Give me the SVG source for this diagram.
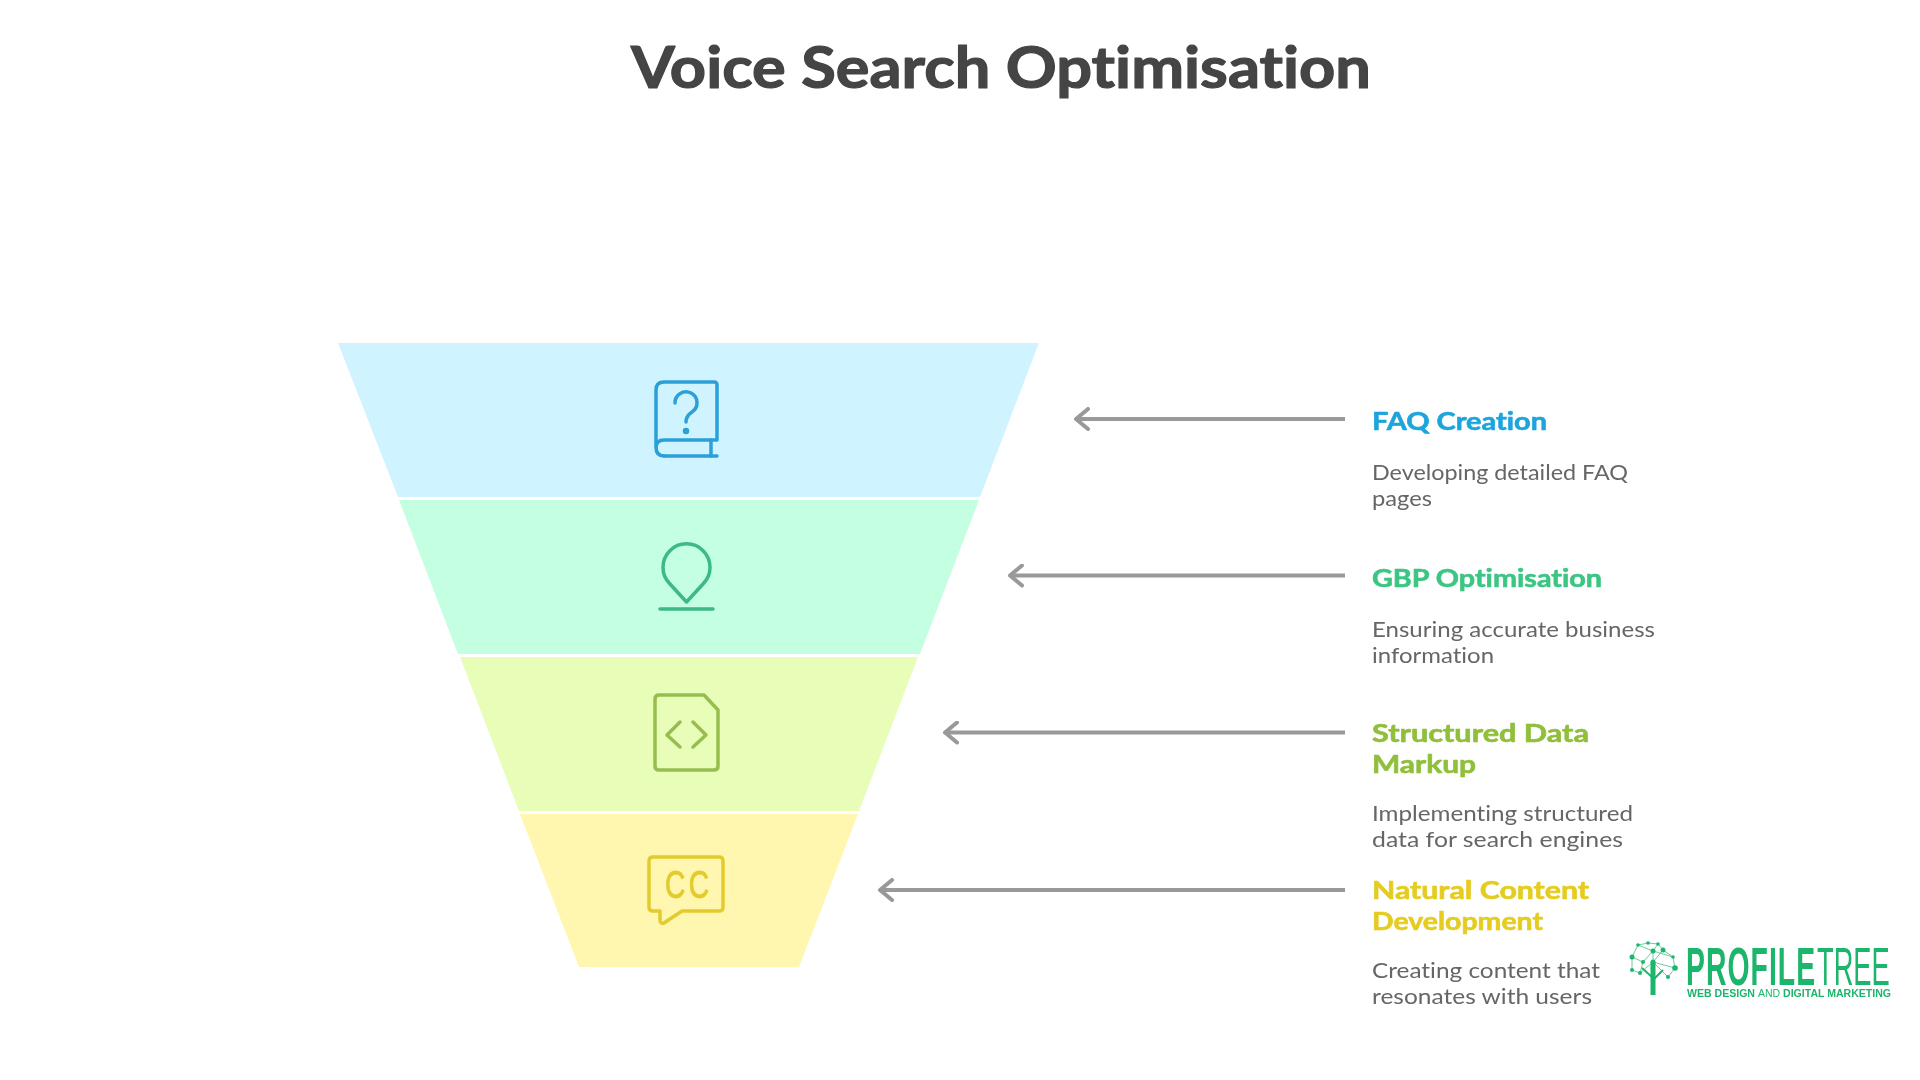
<svg xmlns="http://www.w3.org/2000/svg" width="1920" height="1080" viewBox="0 0 1920 1080">
<defs>
<marker id="ah" viewBox="0 0 24 24" refX="3" refY="12" markerWidth="24" markerHeight="24" markerUnits="userSpaceOnUse" orient="auto"><path d="M15 2 L3 12 L15 22" fill="none" stroke="#999999" stroke-width="4" stroke-linecap="round" stroke-linejoin="round"/></marker>
<filter id="soft" filterUnits="userSpaceOnUse" x="0" y="0" width="1920" height="1080"><feGaussianBlur stdDeviation="0.7"/></filter>
</defs>
<style>
text{font-family:"Lato","Open Sans","Liberation Sans",sans-serif;font-variant-ligatures:none}
.ttl{font-size:58px;font-weight:700;fill:#444444;stroke:#444444;stroke-width:1.2px;stroke-linejoin:round}
.h{font-size:25px;font-weight:700;stroke-width:.6px;stroke-linejoin:round}
.d{font-size:21.5px;fill:#666666}
.ic{fill:none;stroke-width:3.5;stroke-linecap:round;stroke-linejoin:round}
.conn{stroke:#999999;stroke-width:4;fill:none;marker-start:url(#ah)}
.lg{font-family:"Liberation Sans",sans-serif;fill:#1db56c}
.tr{stroke:#1db56c;stroke-width:1;fill:none;opacity:.65}
.nd{fill:#1db56c}
</style>
<rect width="1920" height="1080" fill="#ffffff"/>
<g id="diagram" filter="url(#soft)">
<text id="title" class="ttl" x="631" y="88" textLength="740" lengthAdjust="spacingAndGlyphs">Voice Search Optimisation</text>

<g id="connectors">
<path class="conn" d="M1076 419 H1345"/>
<path class="conn" d="M1010 575.500 H1345"/>
<path class="conn" d="M945 732.500 H1345"/>
<path class="conn" d="M880 890 H1345"/>
</g>

<g id="node-faq">
<polygon points="338,343 1039,343 980,497 398,497" fill="#d0f4ff"/>
<g class="ic" stroke="#2a9fd8">
<path d="M664 456 Q656 456 656 447 V390 Q656 382 664 382 H714 Q717 382 717 385 V440 H664 Q656 440 656 448"/>
<path d="M664 456 H717"/>
<path d="M711 440 V456"/>
<path d="M675 403 A11 11 0 1 1 692 412 Q686 416 686 422"/>
<circle cx="686" cy="431" r="1.500"/>
</g>
<text class="h" fill="#1fa5dc" stroke="#1fa5dc" x="1372" y="430" textLength="175" lengthAdjust="spacingAndGlyphs">FAQ Creation</text>
<text class="d" x="1372" y="480" textLength="256" lengthAdjust="spacingAndGlyphs">Developing detailed FAQ</text>
<text class="d" x="1372" y="506" textLength="60" lengthAdjust="spacingAndGlyphs">pages</text>
</g>

<g id="node-gbp">
<polygon points="399,500 979,500 920,654 458,654" fill="#c4ffe2"/>
<g class="ic" stroke="#3db888">
<path d="M686.500 602 L670 584 A23.500 23.500 0 1 1 703 584 Z"/>
<path d="M660 609 H713"/>
</g>
<text class="h" fill="#3cc583" stroke="#3cc583" x="1372" y="587" textLength="230" lengthAdjust="spacingAndGlyphs">GBP Optimisation</text>
<text class="d" x="1372" y="637" textLength="283" lengthAdjust="spacingAndGlyphs">Ensuring accurate business</text>
<text class="d" x="1372" y="663" textLength="122" lengthAdjust="spacingAndGlyphs">information</text>
</g>

<g id="node-structured">
<polygon points="460,657 918,657 859,811 519,811" fill="#e8fdb8"/>
<g class="ic" stroke="#96be50">
<path d="M659 695 H704 L718 710 V766 Q718 770 714 770 H659 Q655 770 655 766 V699 Q655 695 659 695 Z"/>
<path d="M680 722 L667 735 L680 747"/>
<path d="M693 722 L706 735 L693 747"/>
</g>
<text class="h" fill="#8fbf3a" stroke="#8fbf3a" x="1372" y="742" textLength="217" lengthAdjust="spacingAndGlyphs">Structured Data</text>
<text class="h" fill="#8fbf3a" stroke="#8fbf3a" x="1372" y="773" textLength="104" lengthAdjust="spacingAndGlyphs">Markup</text>
<text class="d" x="1372" y="821" textLength="261" lengthAdjust="spacingAndGlyphs">Implementing structured</text>
<text class="d" x="1372" y="847" textLength="251" lengthAdjust="spacingAndGlyphs">data for search engines</text>
</g>

<g id="node-natural">
<polygon points="520,814 858,814 799,967 579,967" fill="#fff6b0"/>
<g class="ic" stroke="#e3cb2e">
<path d="M653 857 H719 Q723 857 723 861 V907 Q723 911 719 911 H682 L664 923 Q660 924 660 920 V911 H653 Q649 911 649 907 V861 Q649 857 653 857 Z"/>
</g>
<text transform="translate(665 898) scale(.72 1)" font-size="39" fill="#e3cb2e" stroke="#e3cb2e" stroke-width="1" letter-spacing="5" style="font-family:'Liberation Sans',sans-serif">CC</text>
<text class="h" fill="#e5cc20" stroke="#e5cc20" x="1372" y="899" textLength="217" lengthAdjust="spacingAndGlyphs">Natural Content</text>
<text class="h" fill="#e5cc20" stroke="#e5cc20" x="1372" y="930" textLength="171" lengthAdjust="spacingAndGlyphs">Development</text>
<text class="d" x="1372" y="978" textLength="228" lengthAdjust="spacingAndGlyphs">Creating content that</text>
<text class="d" x="1372" y="1004" textLength="220" lengthAdjust="spacingAndGlyphs">resonates with users</text>
</g>

<g id="logo">
<path class="tr" d="M1632 957 L1638 945 L1648 943 L1658 944 L1663 950 L1673 957 L1675 968 L1668 977 M1632 957 L1632 970 L1640 973 L1653 962 L1663 950 M1638 945 L1653 951 L1658 944 M1632 957 L1643 962 L1653 951 L1653 962 L1668 977 M1643 962 L1640 973 M1653 962 L1675 968 M1673 957 L1653 951"/>
<path d="M1653 962 V995" stroke="#1db56c" stroke-width="5" fill="none"/>
<path d="M1653 978 L1642 968 M1653 980 L1663 970" stroke="#1db56c" stroke-width="2" fill="none"/>
<g class="nd">
<circle cx="1632" cy="957" r="2.500"/><circle cx="1638" cy="945" r="1.800"/><circle cx="1648" cy="943" r="1.800"/><circle cx="1658" cy="944" r="1.800"/><circle cx="1653" cy="951" r="2.500"/><circle cx="1663" cy="950" r="2.500"/><circle cx="1673" cy="957" r="1.800"/><circle cx="1675" cy="968" r="2.800"/><circle cx="1668" cy="977" r="2"/><circle cx="1653" cy="962" r="2.500"/><circle cx="1643" cy="962" r="2"/><circle cx="1632" cy="970" r="2"/><circle cx="1640" cy="973" r="2"/>
</g>
<text class="lg" transform="translate(1686 985) scale(.525 1)" font-size="54" font-weight="700" letter-spacing="2">PROFILE</text>
<text class="lg" transform="translate(1817 985) scale(.505 1)" font-size="54">TREE</text>
<text class="lg" transform="translate(1687 997) scale(.96 1)" font-size="11" font-weight="700">WEB DESIGN <tspan font-weight="400">AND</tspan> DIGITAL MARKETING</text>
</g>
</g>
</svg>
